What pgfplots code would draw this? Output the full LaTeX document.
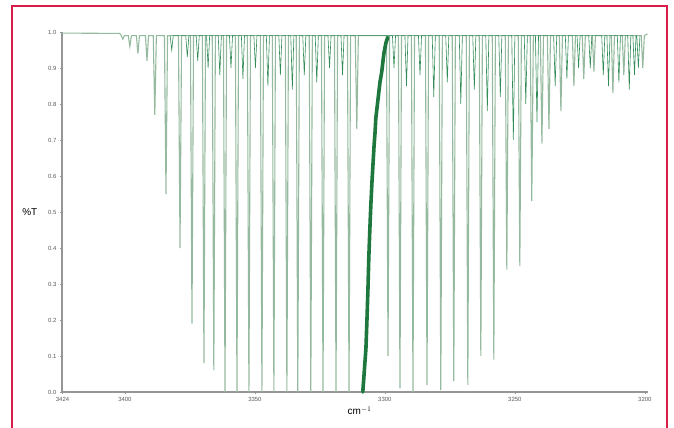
\documentclass[border=0pt]{standalone}
\usepackage{fontspec}
\setmainfont{Liberation Sans}
\usepackage{pgfplots}
\pgfplotsset{compat=1.18}
\definecolor{frame}{RGB}{216,30,72}
\definecolor{mainln}{RGB}{150,186,160}
\definecolor{weakln}{RGB}{50,140,85}
\definecolor{qbr}{RGB}{30,120,62}
\definecolor{axgray}{RGB}{150,150,150}
\begin{document}
\begin{tikzpicture}
\path[use as bounding box] (0bp,0bp) rectangle (674bp,428bp);
\draw[frame, line width=1.5bp] (12bp,0bp) -- (12bp,422bp) -- (667bp,422bp) -- (667bp,0bp);
\begin{axis}[
  at={(62bp,36bp)}, anchor=south west, scale only axis,
  width=586bp, height=360bp,
  xmin=3198.8, xmax=3424.2, ymin=0, ymax=1, x dir=reverse,
  axis x line*=bottom, axis y line*=left,
  axis line style={axgray, line width=1.2bp},
  tick style={axgray, line width=0.6bp}, tick align=outside, major tick length=2bp,
  xtick={3200,3250,3300,3350,3400,3424},
  ytick={0,0.1,0.2,0.3,0.4,0.5,0.6,0.7,0.8,0.9,1.0},
  /pgf/number format/assume math mode=true,
  xticklabel style={/pgf/number format/set thousands separator={}},
  yticklabel style={/pgf/number format/.cd, fixed, fixed zerofill, precision=1},
  ticklabel style={font=\fontsize{6}{7}\selectfont, text=black!65},
  label style={font=\fontsize{6}{7}\selectfont, text=black!65},
  xlabel={cm$^{-1}$}, ylabel={\%T},
  every axis x label/.style={at={(axis description cs:0.508,0)}, anchor=north, yshift=-11bp},
  every axis y label/.style={at={(axis description cs:-0.055,0.5)}, anchor=center},
  clip=false,
]
% main rotational lines
\addplot[mainln, line width=1.1bp] coordinates {
(3424.2,0.997) (3402,0.996)
(3401.4,0.99) (3400.8,0.98) (3400.2,0.99)
(3398.7,0.99) (3398.1,0.96) (3397.5,0.99)
(3395.6,0.99) (3395.0,0.94) (3394.4,0.99)
(3392.1,0.99) (3391.5,0.92) (3390.9,0.99)
(3389.1,0.99) (3388.5,0.77) (3387.9,0.99)
(3384.8,0.99) (3384.2,0.55) (3383.6,0.99)
(3379.4,0.99) (3378.8,0.40) (3378.2,0.99)
(3374.8,0.99) (3374.2,0.19) (3373.6,0.99)
(3370.2,0.99) (3369.6,0.08) (3369.0,0.99)
(3366.4,0.99) (3365.8,0.06) (3365.2,0.99)
(3362.1,0.99) (3361.5,0.00) (3360.9,0.99)
(3357.5,0.99) (3356.9,0.00) (3356.3,0.99)
(3352.9,0.99) (3352.3,0.00) (3351.7,0.99)
(3347.9,0.99) (3347.3,0.00) (3346.7,0.99)
(3343.3,0.99) (3342.7,0.00) (3342.1,0.99)
(3338.3,0.99) (3337.7,0.00) (3337.1,0.99)
(3334.1,0.99) (3333.5,0.00) (3332.9,0.99)
(3329.1,0.99) (3328.5,0.00) (3327.9,0.99)
(3324.4,0.99) (3323.8,0.00) (3323.2,0.99)
(3319.4,0.99) (3318.8,0.00) (3318.2,0.99)
(3314.4,0.99) (3313.8,0.00) (3313.2,0.99)
(3311.4,0.99) (3310.8,0.73) (3310.2,0.99)
(3299.4,0.99) (3298.8,0.10) (3298.2,0.99)
(3294.8,0.99) (3294.2,0.01) (3293.6,0.99)
(3289.8,0.99) (3289.2,0.00) (3288.6,0.99)
(3284.4,0.99) (3283.8,0.02) (3283.2,0.99)
(3279.1,0.99) (3278.5,0.005) (3277.9,0.99)
(3274.1,0.99) (3273.5,0.03) (3272.9,0.99)
(3268.7,0.99) (3268.1,0.02) (3267.5,0.99)
(3263.7,0.99) (3263.1,0.10) (3262.5,0.99)
(3258.7,0.99) (3258.1,0.09) (3257.5,0.99)
(3253.7,0.99) (3253.1,0.34) (3252.5,0.99)
(3248.7,0.99) (3248.1,0.35) (3247.5,0.99)
(3244.1,0.99) (3243.5,0.53) (3242.9,0.99)
(3240.2,0.99) (3239.6,0.69) (3239.0,0.99)
(3237.5,0.99) (3236.9,0.73) (3236.3,0.99)
(3232.9,0.99) (3232.3,0.78) (3231.7,0.99)
(3227.9,0.99) (3227.3,0.85) (3226.7,0.99)
(3224.1,0.99) (3223.5,0.87) (3222.9,0.99)
(3220.2,0.99) (3219.6,0.89) (3219.0,0.99)
(3212.9,0.99) (3212.3,0.83) (3211.7,0.99)
(3208.7,0.99) (3208.1,0.88) (3207.5,0.99)
(3201.4,0.99) (3200.8,0.90) (3200.2,0.99)
(3199.0,0.995)
};
% weak (hot-band) lines
\addplot[weakln, line width=0.6bp] coordinates {
(3382.6,0.99) (3382.0,0.95) (3381.4,0.99)
(3376.6,0.99) (3376.0,0.93) (3375.4,0.99)
(3372.6,0.99) (3372.0,0.92) (3371.4,0.99)
(3368.6,0.99) (3368.0,0.90) (3367.4,0.99)
(3364.1,0.99) (3363.5,0.88) (3362.9,0.99)
(3359.8,0.99) (3359.2,0.90) (3358.6,0.99)
(3355.2,0.99) (3354.6,0.87) (3354.0,0.99)
(3350.4,0.99) (3349.8,0.90) (3349.2,0.99)
(3345.6,0.99) (3345.0,0.85) (3344.4,0.99)
(3340.8,0.99) (3340.2,0.88) (3339.6,0.99)
(3336.2,0.99) (3335.6,0.84) (3335.0,0.99)
(3331.6,0.99) (3331.0,0.88) (3330.4,0.99)
(3326.8,0.99) (3326.2,0.86) (3325.6,0.99)
(3321.9,0.99) (3321.3,0.90) (3320.7,0.99)
(3316.9,0.99) (3316.3,0.88) (3315.7,0.99)
(3297.1,0.99) (3296.5,0.90) (3295.9,0.99)
(3292.3,0.99) (3291.7,0.85) (3291.1,0.99)
(3287.1,0.99) (3286.5,0.88) (3285.9,0.99)
(3281.8,0.99) (3281.2,0.82) (3280.6,0.99)
(3276.6,0.99) (3276.0,0.86) (3275.4,0.99)
(3271.4,0.99) (3270.8,0.80) (3270.2,0.99)
(3266.2,0.99) (3265.6,0.84) (3265.0,0.99)
(3261.2,0.99) (3260.6,0.78) (3260.0,0.99)
(3256.2,0.99) (3255.6,0.82) (3255.0,0.99)
(3251.2,0.99) (3250.6,0.70) (3250.0,0.99)
(3246.4,0.99) (3245.8,0.80) (3245.2,0.99)
(3242.1,0.99) (3241.5,0.75) (3240.9,0.99)
(3235.1,0.99) (3234.5,0.85) (3233.9,0.99)
(3230.6,0.99) (3230.0,0.87) (3229.4,0.99)
(3226.1,0.99) (3225.5,0.90) (3224.9,0.99)
(3221.6,0.99) (3221.0,0.90) (3220.4,0.99)
(3216.6,0.99) (3216.0,0.88) (3215.4,0.99)
(3214.6,0.99) (3214.0,0.85) (3213.4,0.99)
(3210.6,0.99) (3210.0,0.86) (3209.4,0.99)
(3206.6,0.99) (3206.0,0.84) (3205.4,0.99)
(3204.6,0.99) (3204.0,0.88) (3203.4,0.99)
(3203.1,0.99) (3202.5,0.90) (3201.9,0.99)
};
% Q branch envelope
\addplot[qbr, line width=3.6bp, line cap=round] coordinates {
(3298.9,0.985) (3299.6,0.97) (3300.4,0.94) (3301.2,0.89) (3301.9,0.86)
(3302.7,0.81) (3303.5,0.76) (3303.8,0.72) (3304.2,0.68) (3304.6,0.63)
(3305.0,0.58) (3305.4,0.52) (3305.8,0.45) (3306.2,0.37) (3306.5,0.29)
(3306.9,0.20) (3307.3,0.12) (3307.7,0.08) (3308.1,0.04) (3308.5,0.00)
};
\end{axis}
\end{tikzpicture}
\end{document}
